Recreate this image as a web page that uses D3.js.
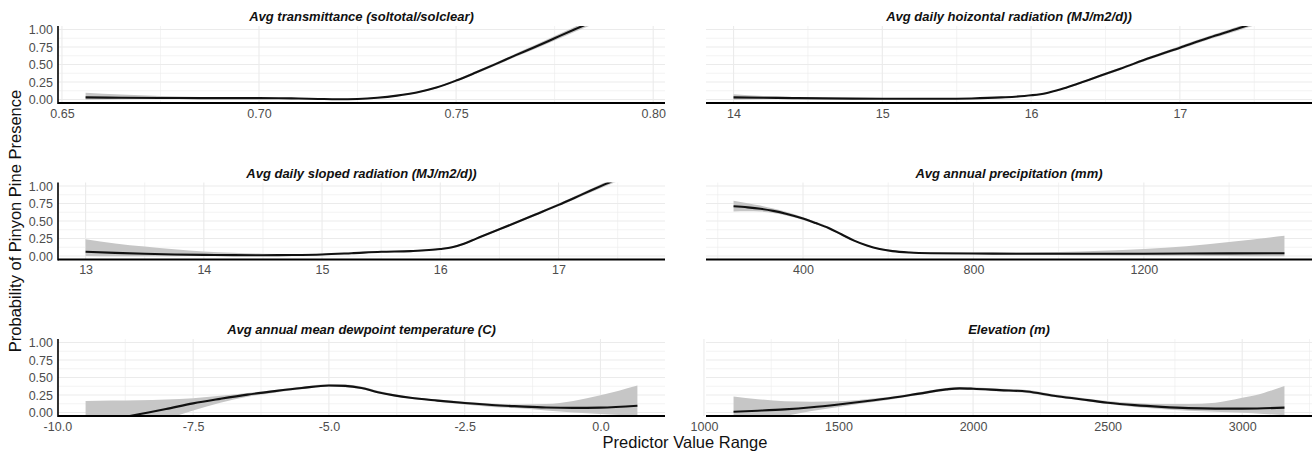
<!DOCTYPE html>
<html>
<head>
<meta charset="utf-8">
<script src="https://cdn.jsdelivr.net/npm/d3@7"></script>
<style>
  body { margin: 0; background: #fff; }
  svg { display: block; font-family: "Liberation Sans", Arial, Helvetica, sans-serif; }
</style>
</head>
<body>
<svg id="chart" width="1314" height="454"></svg>
<script>
// data: x, fitted line, lower and upper band
const transX = [0.656, 0.665, 0.675, 0.685, 0.695, 0.70, 0.705, 0.71, 0.715, 0.72, 0.725, 0.73, 0.735, 0.74, 0.745, 0.75, 0.755, 0.76, 0.765, 0.77, 0.775, 0.78, 0.785, 0.79, 0.796];
const transFit = [0.03, 0.025, 0.022, 0.02, 0.02, 0.02, 0.018, 0.014, 0.008, 0.003, 0.008, 0.025, 0.055, 0.10, 0.17, 0.27, 0.385, 0.505, 0.63, 0.75, 0.875, 1.0, 1.12, 1.25, 1.4];
const transLo = [-0.005, 0.005, 0.01, 0.012, 0.013, 0.014, 0.012, 0.008, 0.002, -0.004, 0.001, 0.017, 0.046, 0.09, 0.158, 0.256, 0.368, 0.485, 0.607, 0.723, 0.843, 0.963, 1.08, 1.2, 1.34];
const transHi = [0.095, 0.07, 0.05, 0.035, 0.028, 0.026, 0.024, 0.02, 0.014, 0.01, 0.015, 0.033, 0.064, 0.11, 0.182, 0.284, 0.402, 0.525, 0.653, 0.777, 0.907, 1.037, 1.16, 1.3, 1.46];
const transTicks = [0.65, 0.70, 0.75, 0.80];

const horizX = [14.0, 14.2, 14.4, 14.6, 14.8, 15.0, 15.2, 15.4, 15.6, 15.8, 16.0, 16.1, 16.2, 16.3, 16.4, 16.6, 16.8, 17.0, 17.2, 17.4, 17.55, 17.703];
const horizFit = [0.03, 0.025, 0.02, 0.016, 0.013, 0.011, 0.01, 0.01, 0.015, 0.03, 0.06, 0.09, 0.145, 0.215, 0.29, 0.44, 0.595, 0.74, 0.885, 1.02, 1.13, 1.24];
const horizLo = [-0.005, 0.005, 0.008, 0.008, 0.007, 0.006, 0.005, 0.005, 0.009, 0.023, 0.052, 0.08, 0.135, 0.202, 0.275, 0.423, 0.575, 0.717, 0.86, 0.99, 1.09, 1.19];
const horizHi = [0.075, 0.05, 0.035, 0.026, 0.02, 0.017, 0.016, 0.016, 0.021, 0.037, 0.068, 0.1, 0.155, 0.228, 0.305, 0.457, 0.615, 0.763, 0.91, 1.05, 1.17, 1.29];
const horizTicks = [14, 15, 16, 17];

const slopeX = [13.0, 13.25, 13.5, 13.75, 14.0, 14.25, 14.5, 14.75, 15.0, 15.25, 15.5, 15.75, 16.0, 16.1, 16.2, 16.3, 16.4, 16.6, 16.8, 17.0, 17.2, 17.4, 17.55, 17.667];
const slopeFit = [0.06, 0.045, 0.032, 0.022, 0.016, 0.012, 0.011, 0.014, 0.022, 0.04, 0.06, 0.07, 0.10, 0.125, 0.175, 0.245, 0.315, 0.45, 0.59, 0.73, 0.88, 1.03, 1.14, 1.23];
const slopeLo = [0.0, -0.005, -0.005, -0.003, 0.0, 0.002, 0.004, 0.007, 0.013, 0.03, 0.05, 0.06, 0.09, 0.113, 0.162, 0.232, 0.302, 0.435, 0.573, 0.71, 0.857, 1.0, 1.1, 1.18];
const slopeHi = [0.24, 0.18, 0.135, 0.095, 0.065, 0.045, 0.032, 0.027, 0.032, 0.05, 0.07, 0.08, 0.11, 0.137, 0.188, 0.258, 0.328, 0.465, 0.607, 0.75, 0.903, 1.06, 1.18, 1.28];
const slopeTicks = [13, 14, 15, 16, 17];

const precX = [237, 270, 300, 330, 360, 400, 430, 460, 490, 520, 550, 580, 610, 650, 700, 800, 900, 1000, 1100, 1200, 1300, 1400, 1530];
const precFit = [0.71, 0.695, 0.675, 0.645, 0.605, 0.535, 0.47, 0.4, 0.31, 0.22, 0.15, 0.1, 0.07, 0.05, 0.04, 0.035, 0.033, 0.032, 0.032, 0.033, 0.035, 0.037, 0.04];
const precLo = [0.635, 0.64, 0.635, 0.615, 0.58, 0.515, 0.452, 0.383, 0.295, 0.207, 0.138, 0.09, 0.06, 0.04, 0.03, 0.024, 0.02, 0.016, 0.012, 0.008, 0.004, 0.0, -0.005];
const precHi = [0.79, 0.755, 0.72, 0.678, 0.632, 0.555, 0.488, 0.417, 0.325, 0.233, 0.162, 0.11, 0.08, 0.06, 0.05, 0.047, 0.05, 0.058, 0.075, 0.1, 0.14, 0.2, 0.29];
const precTicks = [400, 800, 1200];

const dewX = [-9.48, -9.0, -8.5, -8.0, -7.5, -7.0, -6.5, -6.0, -5.5, -5.0, -4.7, -4.4, -4.1, -3.8, -3.5, -3.0, -2.5, -2.0, -1.5, -1.0, -0.5, 0.0, 0.68];
const dewFit = [-0.17, -0.1, -0.025, 0.05, 0.13, 0.195, 0.255, 0.305, 0.35, 0.385, 0.38, 0.35, 0.29, 0.245, 0.21, 0.17, 0.135, 0.107, 0.088, 0.072, 0.066, 0.07, 0.097];
const dewLo = [-0.6, -0.4, -0.25, -0.1, 0.03, 0.14, 0.225, 0.283, 0.332, 0.367, 0.36, 0.335, 0.275, 0.232, 0.195, 0.155, 0.115, 0.08, 0.06, 0.03, 0.0, -0.02, -0.05];
const dewHi = [0.165, 0.17, 0.175, 0.185, 0.205, 0.24, 0.28, 0.322, 0.368, 0.403, 0.4, 0.37, 0.31, 0.26, 0.225, 0.185, 0.155, 0.13, 0.115, 0.12, 0.165, 0.245, 0.385];
const dewTicks = [-10, -7.5, -5, -2.5, 0];

const elevX = [1110, 1200, 1300, 1400, 1500, 1600, 1700, 1800, 1900, 1950, 2000, 2100, 2200, 2300, 2400, 2500, 2600, 2700, 2800, 2900, 3000, 3080, 3157];
const elevFit = [0.01, 0.025, 0.045, 0.075, 0.115, 0.16, 0.21, 0.27, 0.33, 0.345, 0.34, 0.32, 0.3, 0.24, 0.19, 0.14, 0.105, 0.08, 0.062, 0.055, 0.055, 0.06, 0.07];
const elevLo = [-0.2, -0.12, -0.05, 0.02, 0.08, 0.135, 0.19, 0.25, 0.31, 0.325, 0.32, 0.3, 0.28, 0.22, 0.17, 0.12, 0.08, 0.05, 0.025, 0.01, -0.005, -0.02, -0.04];
const elevHi = [0.23, 0.19, 0.16, 0.155, 0.16, 0.19, 0.23, 0.29, 0.35, 0.365, 0.36, 0.34, 0.32, 0.26, 0.21, 0.165, 0.135, 0.12, 0.12, 0.14, 0.21, 0.28, 0.38];
const elevTicks = [1000, 1500, 2000, 2500, 3000];

const yTicks = [0, 0.25, 0.5, 0.75, 1];

const panels = [
  { title: "Avg transmittance (soltotal/solclear)", x: transX, fit: transFit, lo: transLo, hi: transHi, ticks: transTicks, fmt: d => d.toFixed(2) },
  { title: "Avg daily hoizontal radiation (MJ/m2/d))", x: horizX, fit: horizFit, lo: horizLo, hi: horizHi, ticks: horizTicks, fmt: d => d.toFixed(0) },
  { title: "Avg daily sloped radiation (MJ/m2/d))", x: slopeX, fit: slopeFit, lo: slopeLo, hi: slopeHi, ticks: slopeTicks, fmt: d => d.toFixed(0) },
  { title: "Avg annual precipitation (mm)", x: precX, fit: precFit, lo: precLo, hi: precHi, ticks: precTicks, fmt: d => d.toFixed(0) },
  { title: "Avg annual mean dewpoint temperature (C)", x: dewX, fit: dewFit, lo: dewLo, hi: dewHi, ticks: dewTicks, fmt: d => d.toFixed(1) },
  { title: "Elevation (m)", x: elevX, fit: elevFit, lo: elevLo, hi: elevHi, ticks: elevTicks, fmt: d => d.toFixed(0) }
];

// layout
const svg = d3.select("#chart");
const cols = [[58, 665], [706, 1312]];
const rowTops = [26, 182.5, 339];
const panelH = 77;
const gridCol = "#ebebeb";
const tickCol = "#4d4d4d";
const font = "Liberation Sans, Arial, sans-serif";

panels.forEach((p, i) => {
  const [x0, x1] = cols[i % 2];
  const top = rowTops[Math.floor(i / 2)];
  const bottom = top + panelH;

  // ggplot style 5% expansion around the data
  const ext = d3.extent(p.x);
  const pad = (ext[1] - ext[0]) * 0.05;
  const x = d3.scaleLinear().domain([ext[0] - pad, ext[1] + pad]).range([x0, x1]);
  const y = d3.scaleLinear().domain([-0.05, 1.05]).range([bottom, top]);

  const g = svg.append("g");

  // minor + major grid
  const step = p.ticks[1] - p.ticks[0];
  const xMinor = [];
  for (let k = -1; k < p.ticks.length; k++) {
    const v = p.ticks[0] + (k + 0.5) * step;
    if (v >= x.domain()[0] && v <= x.domain()[1]) xMinor.push(v);
  }
  const yMinor = [0.125, 0.375, 0.625, 0.875];

  g.selectAll(".ymin").data(yMinor).join("line")
    .attr("x1", x0).attr("x2", x1).attr("y1", d => y(d)).attr("y2", d => y(d))
    .attr("stroke", gridCol).attr("stroke-width", 0.6);
  g.selectAll(".xmin").data(xMinor).join("line")
    .attr("y1", top).attr("y2", bottom).attr("x1", d => x(d)).attr("x2", d => x(d))
    .attr("stroke", gridCol).attr("stroke-width", 0.6);
  g.selectAll(".ymaj").data(yTicks).join("line")
    .attr("x1", x0).attr("x2", x1).attr("y1", d => y(d)).attr("y2", d => y(d))
    .attr("stroke", gridCol).attr("stroke-width", 1.1);
  g.selectAll(".xmaj").data(p.ticks).join("line")
    .attr("y1", top).attr("y2", bottom).attr("x1", d => x(d)).attr("x2", d => x(d))
    .attr("stroke", gridCol).attr("stroke-width", 1.1);

  // clip so the curves stop at the panel edges
  const clipId = "clip" + i;
  svg.append("clipPath").attr("id", clipId)
    .append("rect").attr("x", x0).attr("y", top).attr("width", x1 - x0).attr("height", panelH);

  const pts = p.x.map((v, j) => ({ x: v, fit: p.fit[j], lo: p.lo[j], hi: p.hi[j] }));

  const band = d3.area()
    .x(d => x(d.x)).y0(d => y(d.lo)).y1(d => y(d.hi))
    .curve(d3.curveMonotoneX);
  const line = d3.line()
    .x(d => x(d.x)).y(d => y(d.fit))
    .curve(d3.curveMonotoneX);

  const plot = g.append("g").attr("clip-path", `url(#${clipId})`);
  plot.append("path").datum(pts)
    .attr("d", band).attr("fill", "#c6c6c6");
  plot.append("path").datum(pts)
    .attr("d", line).attr("fill", "none")
    .attr("stroke", "#111").attr("stroke-width", 2.1);

  // x axis labels
  const xa = g.append("g").attr("transform", `translate(0,${bottom})`)
    .call(d3.axisBottom(x).tickValues(p.ticks).tickFormat(p.fmt).tickSize(0).tickPadding(6));
  xa.select(".domain").remove();
  xa.selectAll("text").attr("fill", tickCol).attr("font-size", 12.5).attr("font-family", font);

  // axis lines
  g.append("line").attr("x1", x0).attr("x2", x1).attr("y1", bottom).attr("y2", bottom)
    .attr("stroke", "#000").attr("stroke-width", 1.8);

  if (i % 2 === 0) {
    const ya = g.append("g").attr("transform", `translate(${x0},0)`)
      .call(d3.axisLeft(y).tickValues(yTicks).tickFormat(d3.format(".2f")).tickSize(0).tickPadding(5));
    ya.select(".domain").remove();
    ya.selectAll("text").attr("fill", tickCol).attr("font-size", 12.5).attr("font-family", font);
    g.append("line").attr("x1", x0).attr("x2", x0).attr("y1", top).attr("y2", bottom + 0.9)
      .attr("stroke", "#000").attr("stroke-width", 1.6);
  }

  // panel title
  g.append("text")
    .attr("x", (x0 + x1) / 2).attr("y", top - 5)
    .attr("text-anchor", "middle")
    .attr("font-size", 13).attr("font-weight", "bold").attr("font-style", "italic")
    .attr("fill", "#111")
    .text(p.title);
});

// axis titles
svg.append("text")
  .attr("transform", "translate(15,221) rotate(-90)")
  .attr("text-anchor", "middle").attr("dominant-baseline", "central")
  .attr("font-size", 16.5).attr("fill", "#111")
  .text("Probability of Pinyon Pine Presence");

svg.append("text")
  .attr("x", 685).attr("y", 448)
  .attr("text-anchor", "middle")
  .attr("font-size", 16.5).attr("fill", "#111")
  .text("Predictor Value Range");
</script>
</body>
</html>
